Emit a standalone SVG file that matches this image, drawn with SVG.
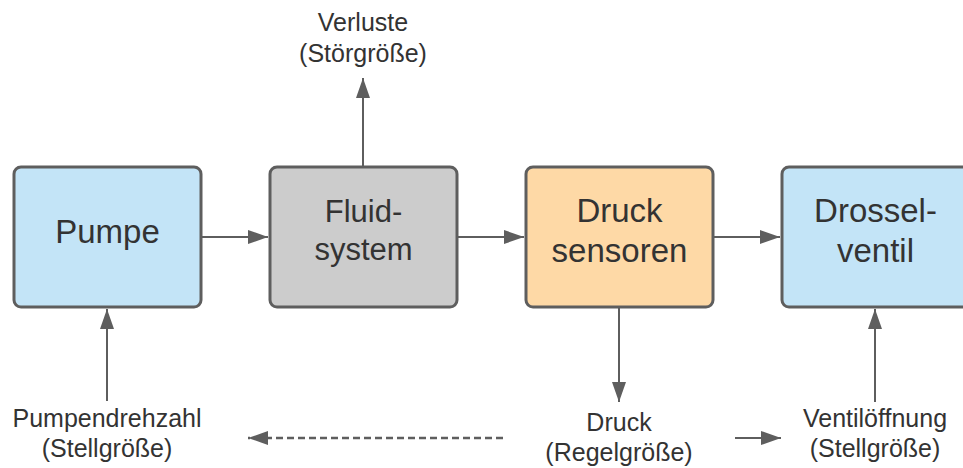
<svg xmlns="http://www.w3.org/2000/svg" width="963" height="468" viewBox="0 0 963 468">
  <style>
    .box { stroke: #5e5e5e; stroke-width: 3; }
    .blue { fill: #c3e4f7; }
    .grey { fill: #cccccc; }
    .orange { fill: #fed9a6; }
    .t { font-family: "Liberation Sans", Arial, sans-serif; fill: #333333; text-anchor: middle; }
    .big { font-size: 33px; }
    .mid { font-size: 31px; }
    .lbl { font-size: 25px; }
    .edge { stroke: #5e5e5e; stroke-width: 2; fill: none; }
    .dash { stroke-width: 2.5; stroke-dasharray: 7 4; }
  </style>
  <defs>
    <marker id="arrow" viewBox="0 0 20 14" refX="20" refY="7" markerWidth="20" markerHeight="14" markerUnits="userSpaceOnUse" orient="auto">
      <path d="M0,0 L20,7 L0,14 Z" fill="#5e5e5e"/>
    </marker>
  </defs>

  <!-- connectors -->
  <g id="connectors">
    <line class="edge" x1="201" y1="237" x2="268" y2="237" marker-end="url(#arrow)"/>
    <line class="edge" x1="457" y1="237" x2="524" y2="237" marker-end="url(#arrow)"/>
    <line class="edge" x1="713" y1="237" x2="780" y2="237" marker-end="url(#arrow)"/>
    <line class="edge" x1="363" y1="166" x2="363" y2="78" marker-end="url(#arrow)"/>
    <line class="edge" x1="107" y1="401" x2="107" y2="309" marker-end="url(#arrow)"/>
    <line class="edge" x1="619" y1="308" x2="619" y2="402" marker-end="url(#arrow)"/>
    <line class="edge" x1="875" y1="402" x2="875" y2="309" marker-end="url(#arrow)"/>
    <line class="edge dash" x1="503" y1="438" x2="248" y2="438" marker-end="url(#arrow)"/>
    <line class="edge" x1="735" y1="438" x2="781" y2="438" marker-end="url(#arrow)"/>
  </g>

  <!-- blocks -->
  <g id="pumpe">
    <rect class="box blue" x="14" y="167" width="187" height="140" rx="7"/>
    <text class="t big" x="107.5" y="243">Pumpe</text>
  </g>
  <g id="fluidsystem">
    <rect class="box grey" x="270" y="167" width="187" height="140" rx="7"/>
    <text class="t mid" x="363.5" y="222">Fluid-</text>
    <text class="t mid" x="363.5" y="260">system</text>
  </g>
  <g id="drucksensoren">
    <rect class="box orange" x="526" y="167" width="187" height="140" rx="7"/>
    <text class="t big" x="619.5" y="222">Druck</text>
    <text class="t big" x="619.5" y="262">sensoren</text>
  </g>
  <g id="drosselventil">
    <rect class="box blue" x="782" y="167" width="187" height="140" rx="7"/>
    <text class="t big" x="875.5" y="222">Drossel-</text>
    <text class="t big" x="875.5" y="262">ventil</text>
  </g>

  <!-- signal labels -->
  <g id="verluste">
    <text class="t lbl" x="363" y="31">Verluste</text>
    <text class="t lbl" x="363" y="62">(Störgröße)</text>
  </g>
  <g id="pumpendrehzahl">
    <text class="t lbl" x="107" y="427">Pumpendrehzahl</text>
    <text class="t lbl" x="107" y="457">(Stellgröße)</text>
  </g>
  <g id="druck">
    <text class="t lbl" x="619" y="431">Druck</text>
    <text class="t lbl" x="619" y="461">(Regelgröße)</text>
  </g>
  <g id="ventiloeffnung">
    <text class="t lbl" x="875" y="427">Ventilöffnung</text>
    <text class="t lbl" x="875" y="457">(Stellgröße)</text>
  </g>
</svg>
